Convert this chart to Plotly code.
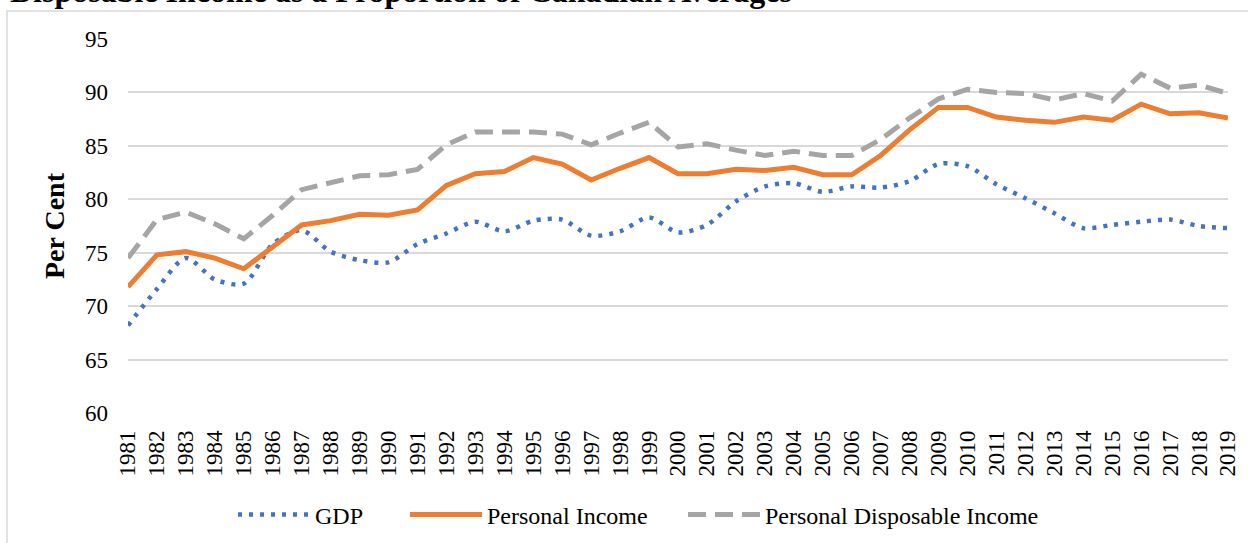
import plotly.graph_objects as go

years = [str(y) for y in range(1981, 2020)]

gdp = [68.2, 71.6, 74.5, 72.5, 72.1, 75.8, 77.1, 75.1, 74.3, 74.1,
       75.8, 76.8, 77.9, 77.0, 78.0, 78.1, 76.6, 77.0, 78.3, 76.9,
       77.6, 79.8, 81.2, 81.5, 80.7, 81.2, 81.1, 81.7, 83.3, 83.1,
       81.4, 80.1, 78.7, 77.3, 77.6, 77.9, 78.1, 77.5, 77.3]

personal_income = [71.8, 74.8, 75.1, 74.5, 73.5, 75.6, 77.6, 78.0, 78.6, 78.5,
                   79.0, 81.3, 82.4, 82.6, 83.9, 83.3, 81.8, 82.9, 83.9, 82.4,
                   82.4, 82.8, 82.7, 83.0, 82.3, 82.3, 84.1, 86.5, 88.6, 88.6,
                   87.7, 87.4, 87.2, 87.7, 87.4, 88.9, 88.0, 88.1, 87.6]

disposable_income = [74.5, 78.1, 78.8, 77.7, 76.3, 78.5, 80.9, 81.5, 82.2, 82.3,
                     82.8, 85.1, 86.3, 86.3, 86.3, 86.1, 85.1, 86.2, 87.2, 84.9,
                     85.2, 84.6, 84.1, 84.5, 84.1, 84.1, 85.6, 87.6, 89.4, 90.3,
                     90.0, 89.9, 89.3, 89.9, 89.2, 91.7, 90.4, 90.7, 89.9]

serif = "Liberation Serif, Times New Roman, serif"

fig = go.Figure()

fig.add_trace(go.Scatter(
    name='GDP', x=years, y=gdp, mode='lines', legend='legend',
    line=dict(color='#4472C4', width=4.5, dash='4px,7px', shape='spline', smoothing=0.8)
))
fig.add_trace(go.Scatter(
    name='Personal Income', x=years, y=personal_income, mode='lines', legend='legend2',
    line=dict(color='#ED7D31', width=5)
))
fig.add_trace(go.Scatter(
    name='Personal Disposable Income', x=years, y=disposable_income, mode='lines', legend='legend3',
    line=dict(color='#A5A5A5', width=5, dash='18px,9px')
))

# outer chart frame (runs off the right and bottom edge like the source)
fig.add_shape(type='rect', xref='paper', yref='paper',
              x0=-0.11, x1=1.05, y0=-0.6, y1=1.075,
              line=dict(color='#D9D9D9', width=1.5), layer='below')

fig.add_annotation(
    text='<b>Disposable Income as a Proportion of Canadian Averages</b>',
    xref='paper', yref='paper', x=-0.109, y=1.129,
    xanchor='left', yanchor='middle', showarrow=False,
    font=dict(family=serif, size=32, color='black')
)

# one legend per series so the entries can be spaced like the source
legend_style = dict(orientation='h', xref='container', yref='container',
                    xanchor='left', y=0.0516, yanchor='middle',
                    itemwidth=72, font=dict(family=serif, size=24))

fig.update_layout(
    width=1248, height=543,
    template='plotly_white',
    plot_bgcolor='white', paper_bgcolor='white',
    font=dict(family=serif, size=24, color='black'),
    margin=dict(l=128, r=20, t=39, b=130, autoexpand=False),
    showlegend=True,
    legend=dict(legend_style, x=233 / 1248),
    legend2=dict(legend_style, x=405 / 1248),
    legend3=dict(legend_style, x=683 / 1248),
    xaxis=dict(tickangle=-90, showgrid=False, showline=False, ticks='',
               ticklabelstandoff=12, tickfont=dict(family=serif, size=23)),
    yaxis=dict(range=[60, 95], dtick=5, showgrid=True, gridcolor='#D9D9D9', gridwidth=1.5,
               zeroline=False, showline=False, ticks='', ticklabelstandoff=19,
               tickfont=dict(family=serif, size=23),
               title=dict(text='<b>Per Cent</b>', font=dict(family=serif, size=28), standoff=12)),
)

# drop the default page margin so the figure sits at the window's top-left corner
fig.write_html("out.html", config={'displayModeBar': False},
               post_script="document.body.style.margin='0px';")
